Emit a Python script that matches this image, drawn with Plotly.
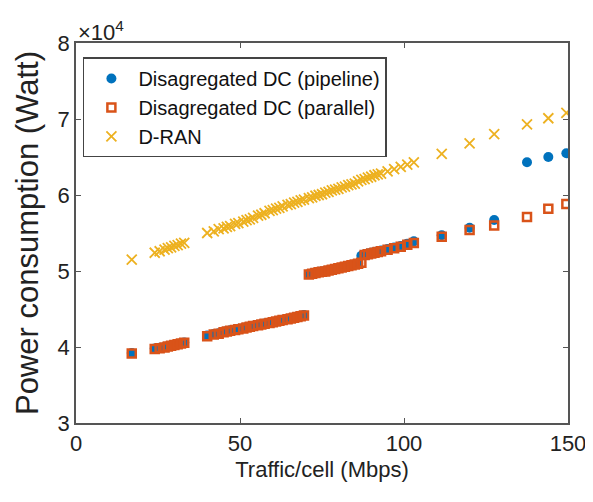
import plotly.graph_objects as go

traffic = [17,
           24, 25.5, 27, 28, 29, 30, 31, 32, 33,
           40, 42, 43.5, 45, 46, 47, 48.5, 49.5, 51, 52, 53, 54, 55.5, 56.5, 57.5,
           59, 60, 61, 62, 63, 64.5, 65.5, 66.5, 67.5, 68.5, 69.5,
           71, 72, 73, 74, 75, 76, 77, 78, 79, 80, 81, 82, 83, 84, 85, 86, 87,
           88, 89, 90, 91, 92, 93, 95, 97, 99, 101, 103,
           111.5, 120, 127.5, 137.5, 144, 149.5]

pipeline = [39200,
            39800, 39900, 40000, 40100, 40200, 40300, 40400, 40500, 40600,
            41500, 41700, 41800, 42000, 42100, 42200, 42300, 42400, 42500, 42600, 42700, 42800, 42900, 43000, 43100,
            43200, 43300, 43400, 43500, 43600, 43700, 43800, 43900, 44000, 44100, 44200,
            49600, 49700, 49800, 49900, 49950, 50000, 50100, 50200, 50300, 50400, 50500, 50600, 50700, 50800, 50900, 51000, 52000,
            52200, 52300, 52400, 52500, 52600, 52700, 52900, 53100, 53300, 53600, 53900,
            54700, 55700, 56700, 64300, 65000, 65500]

parallel = [39150,
            39750, 39850, 39950, 40050, 40150, 40250, 40350, 40450, 40550,
            41400, 41650, 41750, 41950, 42050, 42150, 42250, 42350, 42450, 42550, 42650, 42750, 42850, 42950, 43050,
            43150, 43250, 43350, 43450, 43550, 43650, 43750, 43850, 43950, 44050, 44150,
            49550, 49650, 49750, 49850, 49900, 49950, 50050, 50150, 50250, 50350, 50450, 50550, 50650, 50750, 50850, 50950, 51100,
            52100, 52200, 52300, 52400, 52500, 52600, 52800, 53000, 53200, 53450, 53700,
            54500, 55400, 56000, 57100, 58200, 58800]

dran = [51500,
        52400, 52600, 52800, 53000, 53100, 53300, 53400, 53600, 53700,
        55000, 55200, 55500, 55600, 55800, 55900, 56200, 56300, 56500, 56700, 56800, 57000, 57300, 57400, 57600,
        57900, 58000, 58200, 58300, 58500, 58700, 58800, 59000, 59100, 59300, 59400,
        59600, 59700, 59900, 60000, 60100, 60300, 60400, 60600, 60700, 60800, 61000, 61100, 61300, 61400, 61500, 61800, 62000,
        62100, 62300, 62400, 62600, 62700, 62800, 63100, 63400, 63700, 64000, 64300,
        65400, 66800, 68000, 69300, 70100, 70800]

y_ticks = [30000, 40000, 50000, 60000, 70000, 80000]
y_tick_labels = ["3", "4", "5", "6", "7", "8"]
x_ticks = [0, 50, 100, 150]

FONT = "Liberation Sans, Arial"

fig = go.Figure()
fig.add_trace(go.Scatter(x=traffic, y=pipeline, mode="markers",
                         name="Disagregated DC (pipeline)",
                         marker=dict(symbol="circle", size=10, color="#0072BD",
                                     line=dict(width=0))))
fig.add_trace(go.Scatter(x=traffic, y=parallel, mode="markers",
                         name="Disagregated DC (parallel)",
                         marker=dict(symbol="square-open", size=8, color="#D95319",
                                     line=dict(width=2.5, color="#D95319"))))
fig.add_trace(go.Scatter(x=traffic, y=dran, mode="markers",
                         name="D-RAN",
                         marker=dict(symbol="x-thin-open", size=10, color="#EDB120",
                                     line=dict(width=1.8, color="#EDB120"))))

axis_common = dict(showline=True, linecolor="#555555", linewidth=1.5, mirror="ticks",
                   ticks="inside", ticklen=5, tickcolor="#555555", showgrid=False,
                   zeroline=False, automargin=False,
                   tickfont=dict(family=FONT, size=22, color="#222222"))

fig.update_layout(
    width=585, height=494,
    margin=dict(l=68, r=25, t=35, b=79),
    paper_bgcolor="white", plot_bgcolor="white",
    showlegend=True,
    legend=dict(x=0.014, y=0.962, xanchor="left", yanchor="top",
                bgcolor="white", bordercolor="#444444", borderwidth=1.5,
                font=dict(family=FONT, size=20, color="#111111"),
                itemwidth=44, tracegroupgap=0),
    xaxis=dict(range=[0, 150], tickvals=x_ticks,
               title=dict(text="Traffic/cell (Mbps)", standoff=6,
                          font=dict(family=FONT, size=22, color="#222222")),
               **axis_common),
    yaxis=dict(range=[30000, 80000], tickvals=y_ticks, ticktext=y_tick_labels,
               title=dict(text="Power consumption (Watt)", standoff=10,
                          font=dict(family=FONT, size=31, color="#222222")),
               **axis_common),
    annotations=[dict(text="×10<sup>4</sup>", xref="paper", yref="paper", x=0.0, y=1.0,
                      xanchor="left", yanchor="bottom", showarrow=False, yshift=-4,
                      font=dict(family=FONT, size=22, color="#222222"))]
)

fig.write_html("out.html")
